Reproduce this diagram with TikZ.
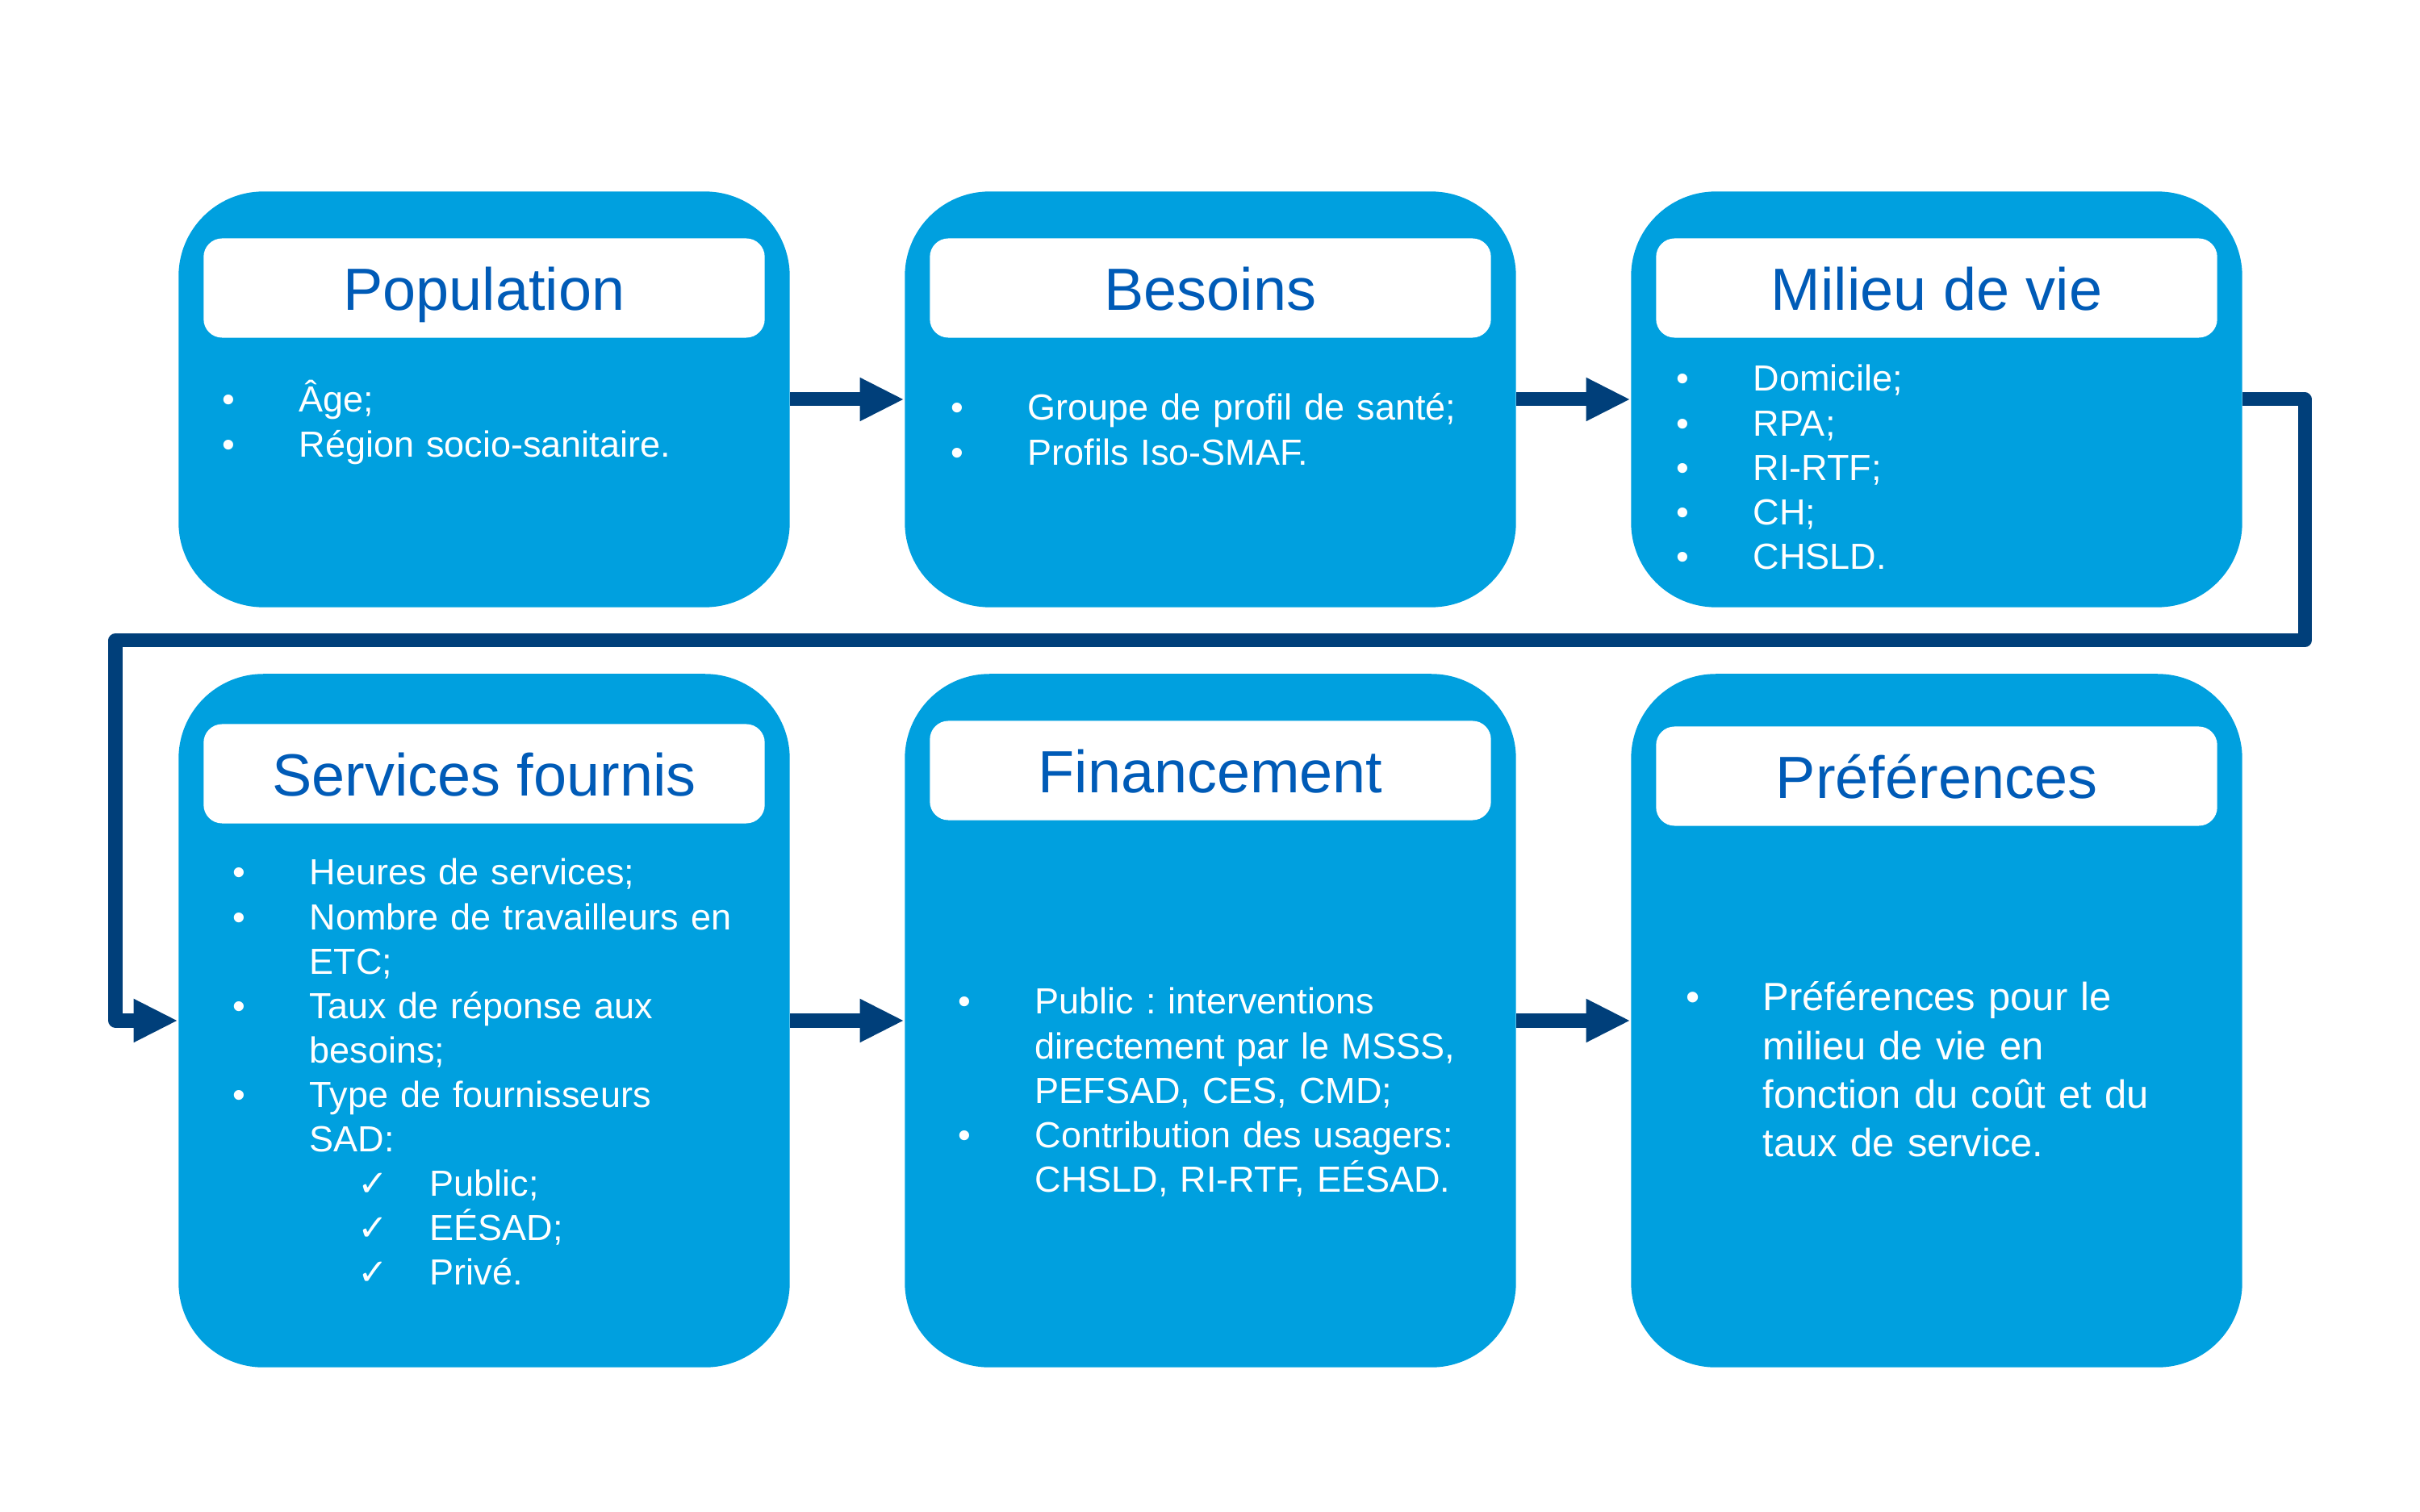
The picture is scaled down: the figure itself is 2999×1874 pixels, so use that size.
\documentclass[tikz,border=0pt]{standalone}
\usepackage{fontspec}
\setmainfont{Liberation Sans}
\newfontfamily\symfont{DejaVu Sans}
\usetikzlibrary{arrows.meta,positioning}
\definecolor{skyblue}{HTML}{00A0DF}
\definecolor{titleblue}{HTML}{005BB7}
\definecolor{navy}{HTML}{003F7A}
\newcommand{\bul}{\makebox[0.95cm][l]{•}}
\newcommand{\cnt}{\hspace*{0.95cm}}
\newcommand{\chk}{\hspace*{1.55cm}\makebox[0.89cm][l]{\symfont ✓}}
\frenchspacing
\tikzset{
  stagebox/.style={fill=skyblue, rounded corners=1.05cm,
                   minimum width=7.57cm, inner sep=0pt},
  headbox/.style={fill=white, rounded corners=0.23cm,
                  minimum width=6.95cm, minimum height=1.23cm, inner sep=0pt,
                  text height=0.54cm, text depth=0pt,
                  font=\fontsize{21}{25}\selectfont, text=titleblue},
  itemlist/.style={anchor=base west, inner sep=0pt, text width=7cm,
                   align=left, text=white, font=\fontsize{12.8}{15.65}\selectfont},
  flowarr/.style={-{Triangle[length=0.55cm,width=0.5cm]}, line width=0.17cm,
                  draw=navy, line join=round}
}
\begin{document}
\begin{tikzpicture}[x=0.01cm,y=-0.01cm]
  \useasboundingbox[fill=white] (0,0) rectangle (2999,1874);

  % top row
  \node[stagebox,minimum height=5.15cm] (pop) at (600,495) {};
  \node[stagebox,minimum height=5.15cm] (bes) at (1500,495) {};
  \node[stagebox,minimum height=5.15cm] (mil) at (2400,495) {};
  % bottom row
  \node[stagebox,minimum height=8.59cm] (serv) at (600,1265) {};
  \node[stagebox,minimum height=8.59cm] (fin) at (1500,1265) {};
  \node[stagebox,minimum height=8.59cm] (pref) at (2400,1265) {};

  \node[headbox] (pophead) at (600,357) {Population};
  \node[headbox] (beshead) at (1500,357) {Besoins};
  \node[headbox] (milhead) at (2400,357) {Milieu de vie};
  \node[headbox] (servhead) at (600,959) {Services fournis};
  \node[headbox] (finhead) at (1500,955) {Financement};
  \node[headbox] (prefhead) at (2400,962) {Préférences};

  \node[itemlist] (poplist) at (275,511) {%
    \bul Âge;\\
    \bul Région socio-sanitaire.};
  \node[itemlist] (beslist) at (1178,521) {%
    \bul Groupe de profil de santé;\\
    \bul Profils Iso-SMAF.};
  \node[itemlist] (millist) at (2077,485) {%
    \bul Domicile;\\
    \bul RPA;\\
    \bul RI-RTF;\\
    \bul CH;\\
    \bul CHSLD.};
  \node[itemlist] (servlist) at (288,1097) {%
    \bul Heures de services;\\
    \bul Nombre de travailleurs en\\
    \cnt ETC;\\
    \bul Taux de réponse aux\\
    \cnt besoins;\\
    \bul Type de fournisseurs\\
    \cnt SAD:\\
    \chk Public;\\
    \chk EÉSAD;\\
    \chk Privé.};
  \node[itemlist] (finlist) at (1187,1257) {%
    \bul Public : interventions\\
    \cnt directement par le MSSS,\\
    \cnt PEFSAD, CES, CMD;\\
    \bul Contribution des usagers:\\
    \cnt CHSLD, RI-RTF, EÉSAD.};
  \node[itemlist,font=\fontsize{13.9}{17.07}\selectfont] (preflist) at (2089,1253) {%
    \bul Préférences pour le\\
    \cnt milieu de vie en\\
    \cnt fonction du coût et du\\
    \cnt taux de service.};

  % connectors
  \coordinate (turnR) at (2856,794);
  \coordinate (turnL) at (143,794);
  \draw[flowarr] (pop) -- (bes);
  \draw[flowarr] (bes) -- (mil);
  \draw[flowarr] (mil.east) -| (turnR) -- (turnL) |- (serv.west);
  \draw[flowarr] (serv) -- (fin);
  \draw[flowarr] (fin) -- (pref);
\end{tikzpicture}
\end{document}
